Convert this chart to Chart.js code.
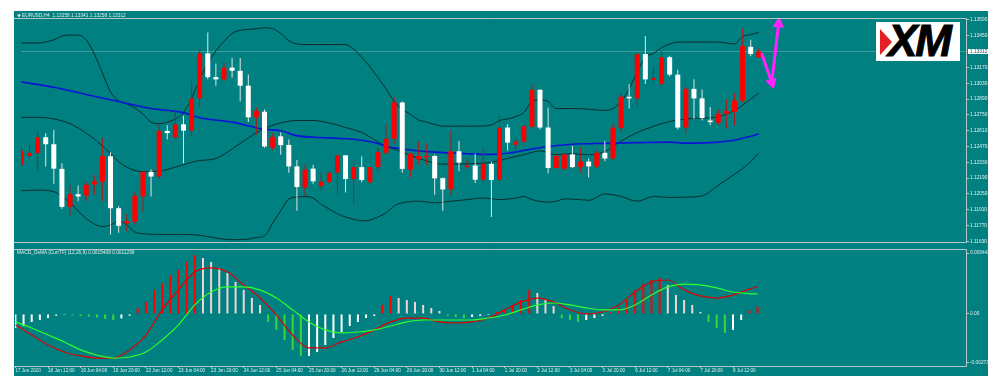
<!DOCTYPE html>
<html>
<head>
<meta charset="utf-8">
<title>EURUSD H4</title>
<script src="https://cdn.jsdelivr.net/npm/chart.js@4.4.1/dist/chart.umd.min.js"></script>
<style>
  html, body { margin: 0; padding: 0; background: #ffffff; }
  #stage { position: relative; width: 1000px; height: 392px; overflow: hidden; }
  #panel { position: absolute; left: 14px; top: 11px; width: 974px; height: 365px; background: #008080; }
  canvas { position: absolute; left: 14px; }
  #priceChart { top: 11px; }
  #osmaChart { top: 248px; }
  #logo { position: absolute; left: 876px; top: 22px; width: 84px; height: 39px; background: #ffffff; overflow: hidden; }
  #logo .tri { position: absolute; left: 4px; top: 7px; width: 0; height: 0;
    border-top: 13px solid transparent; border-bottom: 13px solid transparent; border-left: 12px solid #e31e24; }
  #logo .word { position: absolute; left: 12px; top: -3px; font: italic bold 44px "Liberation Sans", Arial, sans-serif;
    line-height: 44px; letter-spacing: -2px; color: #000000; -webkit-text-stroke: 1px #000000; }
</style>
</head>
<body>
<div id="stage">
  <div id="panel"></div>
  <canvas id="priceChart" width="974" height="238"></canvas>
  <canvas id="osmaChart" width="974" height="128"></canvas>
  <div id="logo"><div class="tri"></div><div class="word">XM</div></div>
</div>
<script>
// EURUSD H4 candles, bar 0 = 17 Jun 20:00
const opens = [
  1.12308, 1.12386, 1.12412, 1.12552, 1.12490, 1.12272, 1.11936, 1.12048, 1.12036, 1.12134,
  1.12160, 1.12384, 1.11924, 1.11790, 1.11804, 1.12028, 1.12246, 1.12204, 1.12608, 1.12550,
  1.12666, 1.12610, 1.12896, 1.13294, 1.13084, 1.13064, 1.13168, 1.13140, 1.13008, 1.12728,
  1.12778, 1.12460, 1.12560, 1.12484, 1.12294, 1.12106, 1.12274, 1.12120, 1.12154, 1.12238,
  1.12392, 1.12182, 1.12288, 1.12154, 1.12288, 1.12414, 1.12538, 1.12860, 1.12266, 1.12358,
  1.12375, 1.12386, 1.12190, 1.12092, 1.12428, 1.12288, 1.12302, 1.12176, 1.12316, 1.12176,
  1.12638, 1.12484, 1.12512, 1.12644, 1.12972, 1.12638, 1.12280, 1.12274, 1.12400, 1.12288,
  1.12336, 1.12294, 1.12414, 1.12364, 1.12635, 1.12910, 1.12896, 1.13288, 1.13058, 1.13022,
  1.13260, 1.13106, 1.12638, 1.12980, 1.12896, 1.12700, 1.12680, 1.12761, 1.12778, 1.12876,
  1.13352, 1.13258
];
const highs = [
  1.12470, 1.12490, 1.12616, 1.12588, 1.12616, 1.12322, 1.12126, 1.12126, 1.12154, 1.12218,
  1.12546, 1.12420, 1.11944, 1.11874, 1.12070, 1.12250, 1.12266, 1.12672, 1.12658, 1.12798,
  1.12742, 1.13050, 1.13330, 1.13478, 1.13204, 1.13210, 1.13252, 1.13252, 1.13106, 1.12818,
  1.12798, 1.12588, 1.12594, 1.12532, 1.12350, 1.12316, 1.12308, 1.12238, 1.12252, 1.12392,
  1.12392, 1.12350, 1.12384, 1.12288, 1.12462, 1.12666, 1.12910, 1.12868, 1.12420, 1.12512,
  1.12496, 1.12398, 1.12196, 1.12616, 1.12518, 1.12364, 1.12406, 1.12448, 1.12336, 1.12742,
  1.12666, 1.12546, 1.12672, 1.13022, 1.12972, 1.12812, 1.12406, 1.12410, 1.12476, 1.12462,
  1.12364, 1.12434, 1.12518, 1.12672, 1.12938, 1.13022, 1.13302, 1.13447, 1.13176, 1.13316,
  1.13274, 1.13148, 1.13002, 1.13064, 1.12974, 1.12820, 1.12798, 1.12887, 1.12943, 1.13512,
  1.13414, 1.13341
];
const lows = [
  1.12290, 1.12370, 1.12252, 1.12294, 1.12140, 1.11920, 1.11860, 1.11986, 1.11986, 1.12042,
  1.11986, 1.11692, 1.11706, 1.11720, 1.11780, 1.11888, 1.12028, 1.12190, 1.12532, 1.12540,
  1.12322, 1.12560, 1.12812, 1.13064, 1.13008, 1.13050, 1.13078, 1.12868, 1.12686, 1.12574,
  1.12460, 1.12440, 1.12398, 1.12238, 1.11902, 1.12028, 1.12140, 1.12084, 1.12140, 1.12042,
  1.12062, 1.11958, 1.12154, 1.12140, 1.12260, 1.12400, 1.12490, 1.12238, 1.12196, 1.12308,
  1.12308, 1.12042, 1.11902, 1.12036, 1.12252, 1.12266, 1.12146, 1.12154, 1.11846, 1.12140,
  1.12434, 1.12440, 1.12500, 1.12630, 1.12620, 1.12232, 1.12270, 1.12260, 1.12280, 1.12238,
  1.12196, 1.12280, 1.12340, 1.12350, 1.12602, 1.12806, 1.12826, 1.13022, 1.13040, 1.13000,
  1.13090, 1.12620, 1.12588, 1.12714, 1.12700, 1.12658, 1.12660, 1.12630, 1.12658, 1.12860,
  1.13268, 1.13258
];
const closes = [
  1.12434, 1.12414, 1.12552, 1.12490, 1.12274, 1.11936, 1.12048, 1.12028, 1.12132, 1.12162,
  1.12384, 1.11924, 1.11768, 1.11810, 1.12034, 1.12246, 1.12204, 1.12608, 1.12588, 1.12666,
  1.12610, 1.12896, 1.13294, 1.13084, 1.13064, 1.13168, 1.13140, 1.13008, 1.12728, 1.12784,
  1.12470, 1.12554, 1.12482, 1.12294, 1.12112, 1.12266, 1.12162, 1.12160, 1.12238, 1.12392,
  1.12182, 1.12288, 1.12174, 1.12288, 1.12420, 1.12538, 1.12860, 1.12272, 1.12406, 1.12384,
  1.12386, 1.12188, 1.12090, 1.12428, 1.12328, 1.12302, 1.12176, 1.12316, 1.12174, 1.12638,
  1.12504, 1.12515, 1.12650, 1.12972, 1.12638, 1.12280, 1.12386, 1.12400, 1.12288, 1.12336,
  1.12294, 1.12414, 1.12364, 1.12638, 1.12910, 1.12896, 1.13288, 1.13064, 1.13078, 1.13260,
  1.13106, 1.12638, 1.12980, 1.12896, 1.12722, 1.12686, 1.12761, 1.12784, 1.12876, 1.13358,
  1.13288, 1.13312
];

// Bollinger bands (20) and moving average, read as [bar, price]
const upperBand = [
  [0, 1.13386], [2, 1.13386], [4, 1.13414], [5, 1.13448], [6, 1.13456], [7, 1.13456], [8, 1.13414],
  [9, 1.13288], [10, 1.13120], [11, 1.12952], [12, 1.12874], [13, 1.12846], [14, 1.12812], [15, 1.12756],
  [16, 1.12686], [17, 1.12672], [18, 1.12686], [19, 1.12714], [20, 1.12770], [21, 1.12896], [22, 1.13064],
  [23, 1.13204], [24, 1.13316], [25, 1.13400], [26, 1.13470], [27, 1.13498], [28, 1.13506], [29, 1.13512],
  [30, 1.13520], [31, 1.13512], [32, 1.13470], [33, 1.13406], [34, 1.13378], [35, 1.13372], [36, 1.13372],
  [38, 1.13372], [40, 1.13372], [41, 1.13330], [42, 1.13260], [43, 1.13176], [44, 1.13078], [45, 1.12980],
  [46, 1.12868], [47, 1.12798], [48, 1.12756], [49, 1.12706], [50, 1.12686], [51, 1.12666], [52, 1.12650],
  [54, 1.12650], [56, 1.12650], [58, 1.12660], [59, 1.12700], [60, 1.12714], [61, 1.12734], [62, 1.12770],
  [63, 1.12868], [64, 1.12882], [65, 1.12868], [66, 1.12806], [68, 1.12806], [70, 1.12800], [72, 1.12789],
  [73, 1.12806], [74, 1.12868], [75, 1.12980], [76, 1.13134], [77, 1.13260], [78, 1.13293], [79, 1.13344],
  [80, 1.13377], [81, 1.13394], [84, 1.13394], [86, 1.13394], [87, 1.13386], [88, 1.13377], [89, 1.13442],
  [90, 1.13461], [91, 1.13478]
];
const middleBand = [
  [0, 1.12728], [2, 1.12728], [4, 1.12714], [6, 1.12672], [8, 1.12588], [10, 1.12476], [12, 1.12336],
  [13, 1.12288], [14, 1.12258], [15, 1.12246], [17, 1.12252], [18, 1.12266], [19, 1.12288], [20, 1.12308],
  [21, 1.12330], [22, 1.12345], [24, 1.12364], [26, 1.12448], [28, 1.12546], [30, 1.12630], [32, 1.12678],
  [34, 1.12700], [36, 1.12700], [38, 1.12678], [40, 1.12638], [42, 1.12594], [44, 1.12510], [45, 1.12470],
  [46, 1.12448], [48, 1.12392], [50, 1.12342], [52, 1.12314], [54, 1.12314], [56, 1.12320], [58, 1.12330],
  [60, 1.12364], [62, 1.12398], [64, 1.12431], [66, 1.12398], [68, 1.12406], [70, 1.12397], [72, 1.12425],
  [74, 1.12518], [76, 1.12593], [78, 1.12649], [80, 1.12691], [82, 1.12714], [84, 1.12722], [86, 1.12733],
  [88, 1.12789], [90, 1.12890], [91, 1.12943]
];
const lowerBand = [
  [0, 1.12078], [2, 1.12084], [4, 1.12070], [6, 1.11972], [8, 1.11832], [10, 1.11762], [11, 1.11776],
  [12, 1.11810], [13, 1.11776], [14, 1.11714], [15, 1.11698], [17, 1.11692], [20, 1.11692], [22, 1.11685],
  [24, 1.11660], [26, 1.11645], [28, 1.11650], [29, 1.11665], [30, 1.11678], [31, 1.11790], [32, 1.11902],
  [33, 1.12006], [34, 1.12022], [35, 1.12028], [36, 1.12014], [37, 1.11958], [38, 1.11916], [39, 1.11874],
  [40, 1.11846], [41, 1.11826], [42, 1.11812], [43, 1.11818], [44, 1.11846], [45, 1.11882], [46, 1.11944],
  [47, 1.11972], [49, 1.11986], [51, 1.11972], [53, 1.11986], [55, 1.12000], [57, 1.12014], [59, 1.12000],
  [61, 1.12014], [62, 1.12028], [63, 1.12000], [65, 1.11978], [66, 1.11986], [67, 1.12006], [68, 1.12005],
  [70, 1.11994], [72, 1.12050], [74, 1.12028], [76, 1.11986], [78, 1.12028], [80, 1.12019], [82, 1.12022],
  [84, 1.12033], [86, 1.12126], [88, 1.12224], [89, 1.12274], [90, 1.12336], [91, 1.12414]
];
const movingAverage = [
  [0, 1.13042], [4, 1.12994], [8, 1.12930], [12, 1.12868], [16, 1.12806], [20, 1.12770], [22, 1.12725],
  [26, 1.12686], [30, 1.12622], [32, 1.12610], [34, 1.12566], [38, 1.12546], [42, 1.12526], [44, 1.12496],
  [45, 1.12473], [47, 1.12448], [51, 1.12420], [55, 1.12406], [58, 1.12400], [60, 1.12410], [63, 1.12448],
  [65, 1.12470], [68, 1.12490], [72, 1.12498], [76, 1.12504], [80, 1.12509], [82, 1.12500], [86, 1.12509],
  [88, 1.12526], [90, 1.12560], [91, 1.12582]
];
// hand-drawn forecast arrows, [bar, price]
const forecastPath = [[91.35, 1.13296], [92.6, 1.13036], [93.44, 1.13556]];

// MACD_OsMA panel
const osma = [
  -0.00079, -0.00068, -0.00045, -0.00034, -0.00023, -0.00010, -0.00005, -0.00008, -0.00012, -0.00015,
  -0.00020, -0.00028, -0.00034, -0.00025, -0.00010, 0.00034, 0.00068, 0.00136, 0.00175, 0.00220,
  0.00249, 0.00294, 0.00333, 0.00316, 0.00294, 0.00260, 0.00232, 0.00181, 0.00136, 0.00090,
  0.00051, -0.00045, -0.00090, -0.00147, -0.00203, -0.00237, -0.00237, -0.00215, -0.00175, -0.00136,
  -0.00102, -0.00068, -0.00045, -0.00023, -0.00011, 0.00051, 0.00102, 0.00090, 0.00079, 0.00068,
  0.00051, 0.00034, 0.00017, -0.00011, -0.00017, -0.00023, -0.00017, -0.00011, -0.00006, 0.00011,
  0.00028, 0.00051, 0.00079, 0.00136, 0.00119, 0.00079, 0.00045, -0.00023, -0.00034, -0.00045,
  -0.00034, -0.00023, -0.00011, 0.00011, 0.00034, 0.00079, 0.00136, 0.00170, 0.00192, 0.00203,
  0.00164, 0.00107, 0.00079, 0.00051, 0.00011, -0.00045, -0.00079, -0.00107, -0.00090, -0.00034,
  0.00020, 0.00041
];
const macdMain = [
  [0, -0.00062], [2, -0.00119], [4, -0.00175], [6, -0.00215], [8, -0.00237], [10, -0.00249], [12, -0.00249],
  [14, -0.00203], [16, -0.00119], [18, 0.00023], [20, 0.00136], [22, 0.00237], [24, 0.00260], [26, 0.00237],
  [28, 0.00164], [30, 0.00090], [32, -0.00006], [34, -0.00119], [36, -0.00192], [38, -0.00192], [40, -0.00158],
  [42, -0.00130], [44, -0.00090], [46, -0.00045], [48, -0.00023], [50, -0.00023], [52, -0.00045], [54, -0.00051],
  [56, -0.00045], [58, -0.00023], [60, 0.00023], [62, 0.00068], [64, 0.00090], [66, 0.00068], [68, 0.00023],
  [70, 0.00000], [72, 0.00011], [74, 0.00051], [76, 0.00124], [78, 0.00181], [80, 0.00192], [82, 0.00136],
  [84, 0.00102], [86, 0.00090], [88, 0.00107], [90, 0.00140], [91, 0.00154]
];
const macdSignal = [
  [0, -0.00045], [2, -0.00079], [4, -0.00119], [6, -0.00158], [8, -0.00203], [10, -0.00232], [12, -0.00249],
  [14, -0.00243], [16, -0.00215], [18, -0.00147], [20, -0.00062], [22, 0.00051], [24, 0.00124], [26, 0.00153],
  [28, 0.00153], [30, 0.00136], [32, 0.00090], [34, 0.00023], [36, -0.00045], [38, -0.00090], [40, -0.00107],
  [42, -0.00102], [44, -0.00090], [46, -0.00068], [48, -0.00045], [50, -0.00034], [52, -0.00034], [54, -0.00034],
  [56, -0.00034], [58, -0.00023], [60, -0.00006], [62, 0.00023], [64, 0.00051], [66, 0.00062], [68, 0.00051],
  [70, 0.00034], [72, 0.00023], [74, 0.00023], [76, 0.00051], [78, 0.00107], [80, 0.00153], [82, 0.00169],
  [84, 0.00164], [86, 0.00147], [88, 0.00124], [90, 0.00115], [91, 0.00113]
];

// axis ticks
const priceTicks = [1.13590, 1.13450, 1.13170, 1.13030, 1.12890, 1.12750, 1.12610, 1.12470,
  1.12330, 1.12190, 1.12050, 1.11910, 1.11770, 1.11630];
const osmaTicks = [0.003442, 0, -0.00273];
const osmaTickLabels = ['0.003442', '0.00', '-0.00273'];
const timeTickBars = [0, 4, 8, 12, 16, 20, 24, 28, 32, 36, 40, 44, 48, 52, 56, 60, 64, 68, 72, 76, 80, 84, 88];
const timeTickLabels = ['17 Jun 2020', '18 Jun 12:00', '19 Jun 04:00', '19 Jun 20:00', '22 Jun 12:00',
  '23 Jun 04:00', '23 Jun 20:00', '24 Jun 12:00', '25 Jun 04:00', '25 Jun 20:00', '26 Jun 12:00',
  '29 Jun 04:00', '29 Jun 20:00', '30 Jun 12:00', '1 Jul 04:00', '1 Jul 20:00', '2 Jul 12:00',
  '3 Jul 04:00', '3 Jul 20:00', '6 Jul 12:00', '7 Jul 04:00', '7 Jul 20:00', '8 Jul 12:00'];
const osmaTitle = 'MACD_OsMA [CurrTF] (12,26,9) 0.0015408 0.0011299';

const textColor = '#e6eeee';
const frameColor = '#b4c6c6';
const bandColor = '#0c2c2c';
const smallFont = { family: 'Liberation Sans', size: 4.8 };
const xMin = -0.05;
const xMax = 116.57;

const last = closes.length - 1;
const lastClose = closes[last];
const symbolTitle = 'EURUSD,H4  ' + [opens[last], highs[last], lows[last], closes[last]].map(v => v.toFixed(5)).join(' ');

const isUp = closes.map((c, i) => c >= opens[i]);
const pairs = list => list.map(([x, y]) => ({ x, y }));

const textPlugin = (text, x, y, marker) => ({
    id: 'panelTitle',
    afterDraw(chart) {
        const ctx = chart.ctx;
        ctx.save();
        ctx.fillStyle = textColor;
        ctx.font = '4.8px "Liberation Sans"';
        ctx.textBaseline = 'middle';
        ctx.fillText(text, x, y);
        if (marker) {
            ctx.beginPath();
            ctx.moveTo(3, 3.5);
            ctx.lineTo(7, 3.5);
            ctx.lineTo(5, 6.5);
            ctx.closePath();
            ctx.fill();
        }
        ctx.restore();
    }
});

const framePlugin = {
    id: 'frame',
    afterDraw(chart) {
        const { ctx, chartArea: a } = chart;
        const top = Math.round(a.top) + 0.5;
        const bottom = Math.round(a.bottom) + 0.5;
        const right = Math.round(a.right) + 0.5;
        ctx.save();
        ctx.strokeStyle = frameColor;
        ctx.lineWidth = 1;
        ctx.beginPath();
        ctx.moveTo(0, top);
        ctx.lineTo(right, top);
        ctx.lineTo(right, bottom);
        ctx.lineTo(0, bottom);
        ctx.stroke();
        ctx.restore();
    }
};

const lastPricePlugin = {
    id: 'lastPrice',
    beforeDatasetsDraw(chart) {
        const { ctx, chartArea: a, scales } = chart;
        const py = Math.round(scales.y.getPixelForValue(lastClose)) + 0.5;
        ctx.save();
        ctx.strokeStyle = 'rgba(190, 205, 205, 0.35)';
        ctx.lineWidth = 1;
        ctx.beginPath();
        ctx.moveTo(a.left, py);
        ctx.lineTo(a.right, py);
        ctx.stroke();
        ctx.restore();
    },
    afterDraw(chart) {
        const { ctx, chartArea: a, scales } = chart;
        const py = Math.round(scales.y.getPixelForValue(lastClose));
        ctx.save();
        ctx.fillStyle = '#ffffff';
        ctx.fillRect(a.right + 2, py - 2, 20, 5);
        ctx.fillStyle = '#0b5a5a';
        ctx.font = '4.8px "Liberation Sans"';
        ctx.textBaseline = 'middle';
        ctx.fillText(lastClose.toFixed(5), a.right + 4, py + 0.5);
        ctx.restore();
    }
};

const rightAxis = (min, max, ticks, label) => ({
    position: 'right',
    min: min,
    max: max,
    afterBuildTicks: axis => { axis.ticks = ticks.map(v => ({ value: v })); },
    afterFit: axis => {
        axis.width = 22;
        axis.paddingTop = 0;
        axis.paddingBottom = 0;
    },
    ticks: { callback: label, color: textColor, font: smallFont, padding: 1, autoSkip: false },
    grid: { drawOnChartArea: false, drawTicks: true, tickLength: 3, color: frameColor },
    border: { display: false }
});

const common = {
    responsive: false,
    maintainAspectRatio: false,
    animation: false,
    events: [],
    devicePixelRatio: 1,
    plugins: { legend: { display: false }, tooltip: { enabled: false } }
};

// price panel
new Chart(document.getElementById('priceChart'), {
    type: 'bar',
    data: {
        datasets: [
            {
                type: 'line',
                data: pairs(forecastPath),
                borderColor: '#ff22ff',
                borderWidth: 3,
                pointRadius: [0, 6, 6],
                pointStyle: 'triangle',
                pointRotation: [0, 163, 6],
                pointBackgroundColor: '#ff22ff',
                pointBorderColor: '#ff22ff',
                pointBorderWidth: 1,
                clip: false,
                order: -1
            },
            {
                type: 'bar',
                data: opens.map((o, i) => ({ x: i, y: [o, closes[i]] })),
                backgroundColor: isUp.map(u => u ? '#ff0000' : '#ffffff'),
                borderWidth: 0,
                barThickness: 5,
                minBarLength: 1,
                inflateAmount: 0,
                grouped: false,
                order: 0
            },
            {
                type: 'bar',
                data: lows.map((l, i) => ({ x: i, y: [l, highs[i]] })),
                backgroundColor: isUp.map(u => u ? '#a41c1c' : '#dfe8e8'),
                borderWidth: 0,
                barThickness: 1,
                inflateAmount: 0,
                grouped: false,
                order: 1
            },
            {
                type: 'line',
                data: pairs(movingAverage),
                borderColor: '#0a14d6',
                borderWidth: 1.6,
                pointRadius: 0,
                cubicInterpolationMode: 'monotone',
                order: 2
            },
            {
                type: 'line',
                data: pairs(upperBand),
                borderColor: bandColor,
                borderWidth: 1,
                pointRadius: 0,
                cubicInterpolationMode: 'monotone',
                order: 3
            },
            {
                type: 'line',
                data: pairs(middleBand),
                borderColor: bandColor,
                borderWidth: 1,
                pointRadius: 0,
                cubicInterpolationMode: 'monotone',
                order: 3
            },
            {
                type: 'line',
                data: pairs(lowerBand),
                borderColor: bandColor,
                borderWidth: 1,
                pointRadius: 0,
                cubicInterpolationMode: 'monotone',
                order: 3
            }
        ]
    },
    options: {
        ...common,
        layout: { padding: { left: 1, right: 0, top: 1, bottom: 2 } },
        scales: {
            x: { type: 'linear', display: false, min: xMin, max: xMax, offset: false, grid: { offset: false } },
            y: rightAxis(1.11625, 1.13607, priceTicks, v => v.toFixed(5))
        }
    },
    plugins: [lastPricePlugin, framePlugin, textPlugin(symbolTitle, 8, 5, true)]
});

// OsMA colouring: above zero rising red, falling pale; below zero falling green, rising white
const osmaColors = osma.map((v, i) => {
    const prev = i > 0 ? osma[i - 1] : 2 * v - osma[1];
    if (v >= 0) return v >= prev ? '#ff0000' : '#f2d4d4';
    return v < prev ? '#39d739' : '#ffffff';
});

new Chart(document.getElementById('osmaChart'), {
    type: 'bar',
    data: {
        datasets: [
            {
                type: 'line',
                data: pairs(macdSignal),
                borderColor: '#2cff2c',
                borderWidth: 1.2,
                pointRadius: 0,
                cubicInterpolationMode: 'monotone',
                order: 0
            },
            {
                type: 'line',
                data: pairs(macdMain),
                borderColor: '#e00000',
                borderWidth: 1.2,
                pointRadius: 0,
                cubicInterpolationMode: 'monotone',
                order: 1
            },
            {
                type: 'bar',
                data: osma.map((v, i) => ({ x: i, y: v })),
                backgroundColor: osmaColors,
                borderWidth: 0,
                barThickness: 2,
                inflateAmount: 0,
                grouped: false,
                order: 2
            }
        ]
    },
    options: {
        ...common,
        layout: { padding: { left: 1, right: 0, top: 1, bottom: 0 } },
        scales: {
            x: {
                type: 'linear',
                min: xMin,
                max: xMax,
                offset: false,
                afterBuildTicks: axis => { axis.ticks = timeTickBars.map(v => ({ value: v })); },
                afterFit: axis => {
                    axis.height = 10;
                    axis.paddingLeft = 0;
                    axis.paddingRight = 0;
                },
                ticks: {
                    callback: v => timeTickLabels[timeTickBars.indexOf(v)],
                    align: 'start',
                    maxRotation: 0,
                    autoSkip: false,
                    padding: 0,
                    color: textColor,
                    font: { family: 'Liberation Sans', size: 4.6 }
                },
                grid: { drawOnChartArea: false, drawTicks: true, tickLength: 2, color: frameColor, offset: false },
                border: { display: false }
            },
            y: rightAxis(-0.00294, 0.00367, osmaTicks, v => osmaTickLabels[osmaTicks.indexOf(v)])
        }
    },
    plugins: [framePlugin, textPlugin(osmaTitle, 3, 5, false)]
});
</script>
</body>
</html>
